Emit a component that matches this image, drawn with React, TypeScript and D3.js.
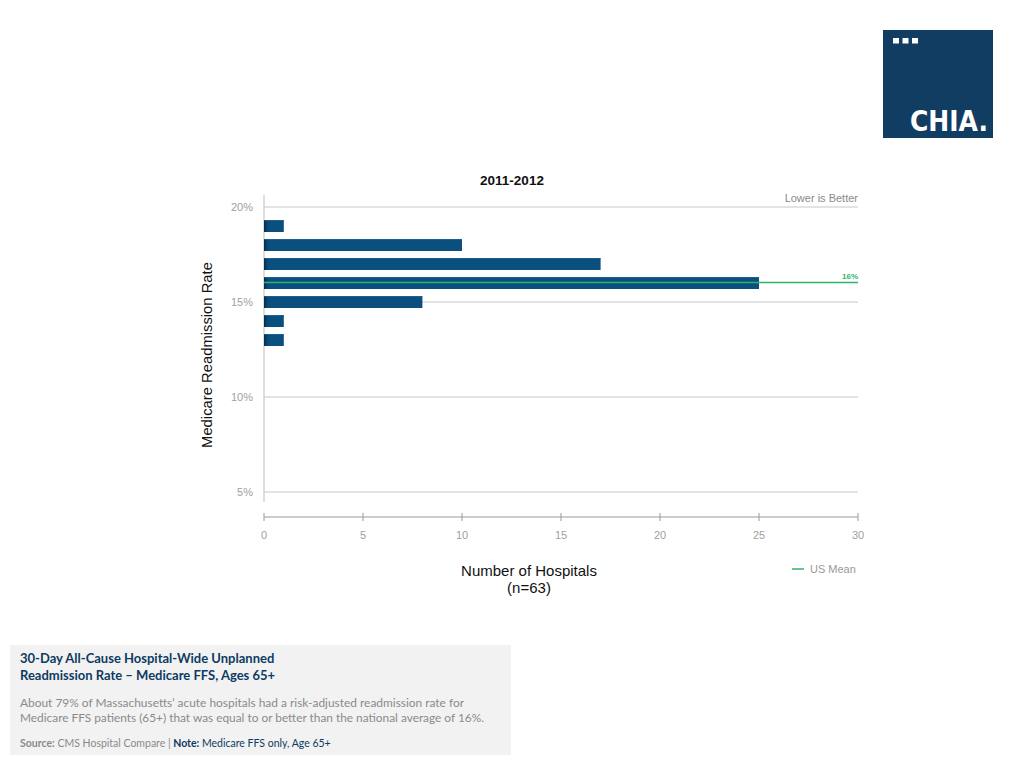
import React from "react";
import * as d3 from "d3";

const rates = [19, 18, 17, 16, 15, 14, 13];
const hospitals = [1, 10, 17, 25, 8, 1, 1];
const yTicks = [20, 15, 10, 5];
const xTicks = [0, 5, 10, 15, 20, 25, 30];
const usMean = 16;

const chartFont = "'Liberation Sans', Arial, sans-serif";
const boxFont = "Lato, 'Open Sans', sans-serif";

export default function App() {
  const x = d3.scaleLinear().domain([0, 30]).range([264, 858]);
  const y = d3.scaleLinear().domain([5, 20]).range([492, 207]);
  const barH = 12;
  const green = "#2fb36b";
  const navy = "#0d3b62";

  return (
    <svg width={1024} height={768} style={{ position: "absolute", left: 0, top: 0 }}>
      <defs>
        <linearGradient id="barGrad" x1="0" x2="1" y1="0" y2="0">
          <stop offset="0" stopColor="#052b48" />
          <stop offset="0.5" stopColor="#0a4675" />
          <stop offset="1" stopColor="#0b4f7f" />
        </linearGradient>
      </defs>
      <rect x={0} y={0} width={1024} height={768} fill="#fff" />

      {/* logo */}
      <rect x={883} y={30} width={110} height={108} fill="#123d63" />
      {[0, 1, 2].map((i) => (
        <rect key={i} x={893 + i * 9.5} y={38} width={6} height={5.5} fill="#fff" />
      ))}
      <text x={910} y={131} fill="#fff" fontFamily="'DejaVu Sans Condensed', 'Liberation Sans Narrow', sans-serif" fontSize={29} fontWeight="bold" fontStretch="condensed" textLength={78} lengthAdjust="spacingAndGlyphs">
        CHIA.
      </text>

      {/* title */}
      <text x={512} y={185} textAnchor="middle" fontFamily={chartFont} fontSize={13.5} fontWeight="bold" fill="#111">
        2011-2012
      </text>
      <text x={858} y={202} textAnchor="end" fontFamily={chartFont} fontSize={11} fill="#8a8a8a">
        Lower is Better
      </text>

      {/* gridlines */}
      {yTicks.map((t) => (
        <g key={t}>
          <line x1={x(0)} x2={x(30)} y1={y(t)} y2={y(t)} stroke="#c8c8c8" strokeWidth={1.2} />
          <text x={253} y={y(t) + 4} textAnchor="end" fontFamily={chartFont} fontSize={11} fill="#a0a0a0">
            {t}%
          </text>
        </g>
      ))}
      <line x1={x(0)} x2={x(0)} y1={195} y2={502} stroke="#c8c8c8" strokeWidth={1.2} />

      {/* bars */}
      {rates.map((r, i) => (
        <g key={r}>
          <rect x={x(0)} y={y(r) - barH / 2} width={x(hospitals[i]) - x(0)} height={barH} fill="#0b4f7f" />
          <rect x={x(0)} y={y(r) - barH / 2} width={6} height={barH} fill="url(#barGrad)" />
          <rect x={x(0)} y={y(r) - barH / 2} width={x(hospitals[i]) - x(0)} height={1} fill="#2a6a97" opacity={0.6} />
        </g>
      ))}

      {/* US mean */}
      <line x1={x(0)} x2={x(30)} y1={y(usMean) - 0.5} y2={y(usMean) - 0.5} stroke={green} strokeWidth={1.3} />
      <text x={858} y={y(usMean) - 4} textAnchor="end" fontFamily={chartFont} fontSize={8} fontWeight="bold" fill={green}>
        {usMean}%
      </text>

      {/* x axis */}
      <line x1={x(0)} x2={x(30)} y1={517} y2={517} stroke="#999" strokeWidth={1} />
      {xTicks.map((t) => (
        <g key={t}>
          <line x1={x(t)} x2={x(t)} y1={513} y2={521} stroke="#999" strokeWidth={1} />
          <text x={x(t)} y={539} textAnchor="middle" fontFamily={chartFont} fontSize={11} fill="#a0a0a0">
            {t}
          </text>
        </g>
      ))}

      {/* axis titles */}
      <text transform="translate(212,355) rotate(-90)" textAnchor="middle" fontFamily={chartFont} fontSize={14.8} fill="#111">
        Medicare Readmission Rate
      </text>
      <text x={529} y={576} textAnchor="middle" fontFamily={chartFont} fontSize={15} fill="#111">
        Number of Hospitals
      </text>
      <text x={529} y={593} textAnchor="middle" fontFamily={chartFont} fontSize={15} fill="#111">
        (n=63)
      </text>

      {/* legend */}
      <line x1={792} x2={804} y1={569} y2={569} stroke={green} strokeWidth={1.5} />
      <text x={810} y={573} fontFamily={chartFont} fontSize={11} fill="#999">
        US Mean
      </text>

      {/* note box */}
      <rect x={10} y={645} width={501} height={110} fill="#f2f2f2" />
      <text x={20} y={663} fontFamily={boxFont} fontSize={13} fontWeight="bold" fill={navy}>
        30-Day All-Cause Hospital-Wide Unplanned
      </text>
      <text x={20} y={680} fontFamily={boxFont} fontSize={13} fontWeight="bold" fill={navy}>
        Readmission Rate – Medicare FFS, Ages 65+
      </text>
      <text x={20} y={707} fontFamily={boxFont} fontSize={11} fill="#8a8a8a" textLength={444} lengthAdjust="spacingAndGlyphs">
        About 79% of Massachusetts’ acute hospitals had a risk-adjusted readmission rate for
      </text>
      <text x={20} y={722} fontFamily={boxFont} fontSize={11} fill="#8a8a8a" textLength={464} lengthAdjust="spacingAndGlyphs">
        Medicare FFS patients (65+) that was equal to or better than the national average of 16%.
      </text>
      <text x={20} y={747} fontFamily={boxFont} fontSize={10.5} fill="#8a8a8a">
        <tspan fontWeight="bold">Source:</tspan>
        <tspan> CMS Hospital Compare | </tspan>
        <tspan fontWeight="bold" fill={navy}>Note:</tspan>
        <tspan fill={navy}> Medicare FFS only, Age 65+</tspan>
      </text>
    </svg>
  );
}
